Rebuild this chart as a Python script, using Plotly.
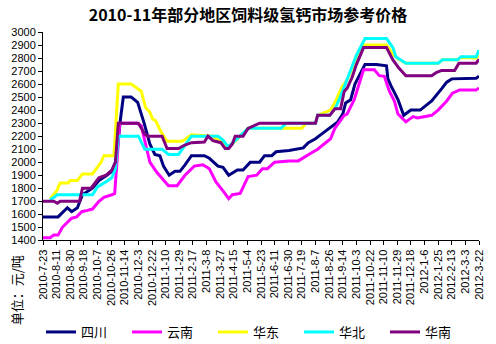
import plotly.graph_objects as go
import pandas as pd

title = "2010-11年部分地区饲料级氢钙市场参考价格"
unit_label = "单位：元/吨"

tick_labels = ["2010-7-23", "2010-8-11", "2010-8-30", "2010-9-18", "2010-10-7", "2010-10-26",
               "2010-11-14", "2010-12-3", "2010-12-22", "2011-1-10", "2011-1-29", "2011-2-17",
               "2011-3-8", "2011-3-27", "2011-4-15", "2011-5-4", "2011-5-23", "2011-6-11",
               "2011-6-30", "2011-7-19", "2011-8-7", "2011-8-26", "2011-9-14", "2011-10-3",
               "2011-10-22", "2011-11-10", "2011-11-29", "2011-12-18", "2012-1-6", "2012-1-25",
               "2012-2-13", "2012-3-3", "2012-3-22"]

sichuan_dates = ["2010-07-23", "2010-08-13", "2010-08-26", "2010-09-01", "2010-09-09", "2010-09-16",
                 "2010-09-30", "2010-10-09", "2010-10-20", "2010-10-27", "2010-11-01", "2010-11-03",
                 "2010-11-08", "2010-11-12", "2010-11-23", "2010-12-02", "2010-12-11", "2010-12-19",
                 "2010-12-26", "2011-01-02", "2011-01-07", "2011-01-15", "2011-01-23", "2011-01-30",
                 "2011-02-06", "2011-02-15", "2011-03-05", "2011-03-12", "2011-03-24", "2011-03-31",
                 "2011-04-08", "2011-04-20", "2011-04-28", "2011-05-08", "2011-05-21", "2011-05-28",
                 "2011-06-07", "2011-06-13", "2011-07-01", "2011-07-10", "2011-07-21", "2011-07-28",
                 "2011-08-07", "2011-08-14", "2011-08-24", "2011-09-07", "2011-09-14", "2011-09-18",
                 "2011-09-25", "2011-10-01", "2011-10-15", "2011-10-31", "2011-11-14", "2011-11-16",
                 "2011-11-20", "2011-11-30", "2011-12-08", "2011-12-18", "2011-12-31", "2012-01-16",
                 "2012-01-30", "2012-02-06", "2012-02-13", "2012-03-18", "2012-03-22"]
sichuan = [1580, 1580, 1650, 1620, 1650, 1750,
           1800, 1860, 1900, 1930, 2000, 2060,
           2330, 2500, 2500, 2460, 2300, 2140,
           2060, 2050, 1970, 1900, 1930, 1930,
           1980, 2050, 2050, 2030, 1970, 1960,
           1900, 1940, 1940, 2000, 2000, 2050,
           2050, 2080, 2090, 2100, 2110, 2150,
           2180, 2210, 2250, 2310, 2370, 2455,
           2480, 2600, 2750, 2750, 2740, 2640,
           2590, 2480, 2360, 2400, 2400, 2470,
           2565, 2615, 2640, 2645, 2660]

yunnan_dates = ["2010-07-23", "2010-08-02", "2010-08-07", "2010-08-13", "2010-08-19", "2010-08-26",
                "2010-09-01", "2010-09-08", "2010-09-15", "2010-09-23", "2010-09-30", "2010-10-09",
                "2010-10-16", "2010-10-27", "2010-10-31", "2010-11-07", "2010-12-01", "2010-12-07",
                "2010-12-13", "2010-12-19", "2010-12-29", "2011-01-07", "2011-01-14", "2011-01-26",
                "2011-02-06", "2011-02-19", "2011-03-03", "2011-03-12", "2011-03-21", "2011-03-31",
                "2011-04-08", "2011-04-13", "2011-04-24", "2011-05-05", "2011-05-17", "2011-05-25",
                "2011-06-01", "2011-06-11", "2011-07-01", "2011-07-14", "2011-07-24", "2011-08-01",
                "2011-08-10", "2011-08-21", "2011-08-28", "2011-09-03", "2011-09-11", "2011-09-16",
                "2011-09-20", "2011-09-30", "2011-10-13", "2011-10-28", "2011-11-04", "2011-11-11",
                "2011-11-18", "2011-11-25", "2011-11-30", "2011-12-11", "2011-12-21", "2011-12-27",
                "2012-01-16", "2012-01-25", "2012-02-06", "2012-02-14", "2012-02-24", "2012-03-18",
                "2012-03-22"]
yunnan = [1420, 1420, 1440, 1440, 1500, 1540,
          1570, 1580, 1620, 1630, 1640, 1700,
          1730, 1750, 1760, 2300, 2300, 2280,
          2130, 2000, 1920, 1860, 1820, 1820,
          1900, 1970, 1980, 1950, 1850, 1780,
          1720, 1750, 1760, 1890, 1900, 1950,
          1950, 2000, 2010, 2010, 2040, 2070,
          2100, 2150, 2180, 2260, 2320, 2360,
          2370, 2480, 2710, 2710, 2665, 2660,
          2545, 2470, 2370, 2310, 2350, 2340,
          2360, 2400, 2470, 2530, 2555, 2555,
          2570]

huadong_dates = ["2010-08-02", "2010-08-11", "2010-08-16", "2010-08-27", "2010-08-30", "2010-09-09",
                 "2010-09-16", "2010-09-30", "2010-10-12", "2010-10-16", "2010-10-30", "2010-11-05",
                 "2010-11-23", "2010-12-07", "2010-12-13", "2010-12-19", "2010-12-23", "2010-12-27",
                 "2011-01-03", "2011-01-12", "2011-02-02", "2011-02-15", "2011-03-16", "2011-04-07",
                 "2011-04-15", "2011-05-05", "2011-07-19", "2011-07-25", "2011-08-07", "2011-08-10",
                 "2011-08-28", "2011-09-04", "2011-09-13", "2011-09-20", "2011-09-30", "2011-10-13",
                 "2011-11-14", "2011-11-23", "2011-12-01", "2011-12-11", "2012-01-25", "2012-01-31",
                 "2012-02-21", "2012-02-26", "2012-03-18", "2012-03-22"]
huadong = [1720, 1780, 1840, 1840, 1860, 1860,
           1910, 1910, 2000, 2050, 2050, 2600,
           2600, 2545, 2420, 2385, 2330, 2320,
           2240, 2160, 2160, 2210, 2200, 2120,
           2150, 2260, 2260, 2300, 2300, 2360,
           2400, 2470, 2580, 2630, 2760, 2900,
           2900, 2830, 2790, 2760, 2760, 2786,
           2786, 2805, 2800, 2820]

huabei_dates = ["2010-08-02", "2010-08-12", "2010-09-30", "2010-10-07", "2010-10-19", "2010-10-27",
                "2010-11-01", "2010-11-05", "2010-12-03", "2010-12-12", "2011-01-05", "2011-01-14",
                "2011-01-28", "2011-02-15", "2011-03-24", "2011-03-31", "2011-04-07", "2011-04-13",
                "2011-05-05", "2011-06-20", "2011-06-27", "2011-08-07", "2011-08-10", "2011-08-27",
                "2011-09-04", "2011-09-09", "2011-10-03", "2011-10-15", "2011-11-14", "2011-11-23",
                "2011-11-27", "2011-12-11", "2012-01-25", "2012-01-31", "2012-02-21", "2012-02-26",
                "2012-03-18", "2012-03-22"]
huabei = [1710, 1750, 1750, 1810, 1850, 1880,
          1950, 2200, 2200, 2100, 2100, 2060,
          2060, 2200, 2200, 2170, 2120, 2145,
          2260, 2260, 2300, 2300, 2360, 2360,
          2420, 2480, 2820, 2950, 2950, 2880,
          2810, 2760, 2760, 2786, 2786, 2810,
          2810, 2860]

huanan_dates = ["2010-07-23", "2010-08-07", "2010-08-12", "2010-08-16", "2010-09-12", "2010-09-16",
                "2010-09-28", "2010-10-09", "2010-10-19", "2010-10-27", "2010-11-01", "2010-11-05",
                "2010-12-03", "2010-12-12", "2010-12-16", "2011-01-05", "2011-01-12", "2011-01-28",
                "2011-02-05", "2011-02-15", "2011-03-05", "2011-03-10", "2011-03-17", "2011-03-28",
                "2011-04-03", "2011-04-08", "2011-04-13", "2011-04-17", "2011-04-28", "2011-05-05",
                "2011-05-21", "2011-08-07", "2011-08-10", "2011-08-27", "2011-09-03", "2011-09-11",
                "2011-09-16", "2011-09-20", "2011-09-27", "2011-10-03", "2011-10-13", "2011-11-14",
                "2011-11-23", "2011-12-01", "2011-12-11", "2012-01-16", "2012-01-23", "2012-01-30",
                "2012-02-17", "2012-02-23", "2012-03-18", "2012-03-22"]
huanan = [1700, 1700, 1685, 1700, 1700, 1800,
          1800, 1880, 1900, 1940, 2000, 2300,
          2300, 2215, 2200, 2200, 2105, 2105,
          2130, 2150, 2155, 2200, 2165, 2150,
          2105, 2105, 2140, 2200, 2200, 2260,
          2300, 2300, 2360, 2360, 2410, 2410,
          2543, 2567, 2650, 2750, 2880, 2880,
          2786, 2725, 2664, 2664, 2690, 2705,
          2705, 2760, 2760, 2790]

series = [
    ("四川", sichuan_dates, sichuan, "#000080"),
    ("云南", yunnan_dates, yunnan, "#FF00FF"),
    ("华东", huadong_dates, huadong, "#FFFF00"),
    ("华北", huabei_dates, huabei, "#00FFFF"),
    ("华南", huanan_dates, huanan, "#800080"),
]

fig = go.Figure()
for name, xs, ys, color in series:
    fig.add_trace(go.Scatter(x=xs, y=ys, mode="lines", name=name,
                             line=dict(color=color, width=3)))

tickvals = pd.to_datetime(tick_labels, format="%Y-%m-%d").strftime("%Y-%m-%d").tolist()

W, H = 496, 344
ML, MR, MT, MB = 37, 11, 32, 92
PW, PH = W - ML - MR, H - MT - MB

fig.update_layout(
    width=W, height=H,
    margin=dict(l=ML, r=MR, t=MT, b=MB, pad=0),
    paper_bgcolor="white", plot_bgcolor="white",
    font=dict(family="Liberation Sans, Arial, sans-serif", size=11, color="black"),
    title=dict(text="<b>" + title + "</b>", x=0.5, xref="container", xanchor="center",
               y=1 - 15 / H, yref="container", yanchor="middle",
               font=dict(family="Noto Sans CJK SC", size=16, color="black")),
    showlegend=True,
    legend=dict(orientation="h", xref="container", yref="container",
                x=41 / W, y=(H - 332) / H, xanchor="left", yanchor="middle",
                font=dict(family="Noto Sans CJK SC", size=13, color="black"),
                entrywidth=41, entrywidthmode="pixels", bgcolor="rgba(0,0,0,0)"),
    xaxis=dict(type="date", range=["2010-07-23", "2012-03-22"],
               tickvals=tickvals, ticktext=tick_labels, tickangle=-90,
               ticks="outside", ticklen=4, tickcolor="black", tickwidth=1,
               showline=True, linecolor="black", linewidth=1, showgrid=False,
               zeroline=False, tickfont=dict(size=11, family="Liberation Sans")),
    yaxis=dict(range=[1400, 3000], dtick=100, tick0=1400,
               ticks="outside", ticklen=4, tickcolor="black", tickwidth=1,
               showline=True, linecolor="black", linewidth=1, showgrid=False,
               zeroline=False, tickfont=dict(size=11, family="Liberation Sans")),
    annotations=[dict(text=unit_label, textangle=-90, xref="paper", yref="paper",
                      x=(10 - ML) / PW, y=(MT + PH - 305) / PH,
                      xanchor="center", yanchor="middle", showarrow=False,
                      font=dict(family="Noto Sans CJK SC", size=13, color="black"))],
)

fig.write_html("out.html")
